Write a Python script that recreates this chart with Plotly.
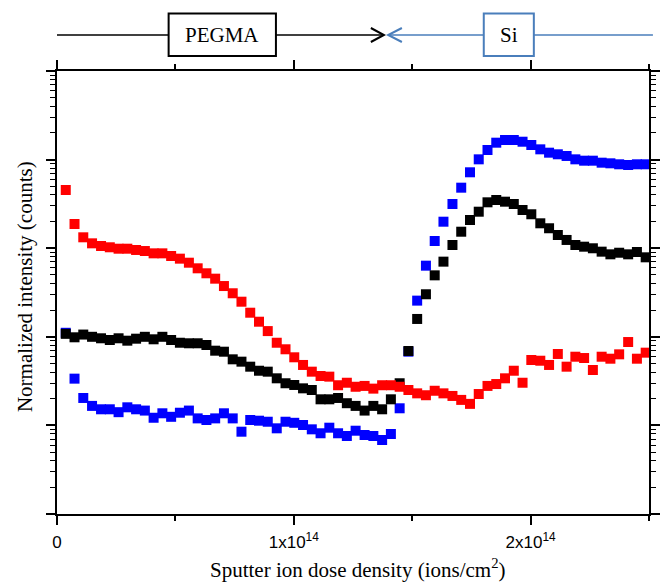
import plotly.graph_objects as go

# Sputter ion dose density, in units of 1e12 ions/cm^2
dose_e12 = [3.7, 7.4, 11.1, 14.8, 18.6, 22.3, 26.0, 29.7, 33.4, 37.1,
            40.8, 44.5, 48.2, 51.9, 55.7, 59.4, 63.1, 66.8, 70.5, 74.2,
            77.9, 81.6, 85.3, 89.0, 92.8, 96.5, 100.2, 103.9, 107.6, 111.3,
            115.0, 118.7, 122.4, 126.1, 129.9, 133.6, 137.3, 141.0, 144.7, 148.4,
            152.1, 155.8, 159.5, 163.2, 167.0, 170.7, 174.4, 178.1, 181.8, 185.5,
            189.2, 192.9, 196.6, 200.3, 204.1, 207.8, 211.5, 215.2, 218.9, 222.6,
            226.3, 230.0, 233.7, 237.4, 241.2, 244.9, 248.6]

red_counts = [4540, 1875, 1327, 1135, 1059, 1024, 987, 987, 955, 929,
              875, 875, 817, 762, 686, 593, 521, 453, 374, 310,
              249, 187, 148, 116, 85.7, 72.3, 58.7, 48.1, 40.4, 36.1,
              35.5, 28.4, 30.3, 27.3, 27.9, 26.0, 28.4, 28.4, 27.3, 25.1,
              23.0, 21.9, 24.6, 23.0, 21.5, 19.4, 17.5, 22.6, 27.9, 29.3,
              34.0, 41.4, 30.3, 54.7, 53.7, 48.1, 64.0, 46.0, 59.6, 57.6,
              42.2, 59.6, 56.6, 63.4, 87.3, 56.6, 66.2]

black_counts = [108, 98.7, 106, 100, 96.2, 92.0, 96.2, 90.4, 95.2, 100,
                93.7, 100, 92.0, 85.7, 84.5, 84.5, 80.8, 69.7, 67.9, 55.7,
                52.4, 46.0, 41.4, 40.4, 34.0, 29.9, 28.6, 26.2, 25.1, 19.7,
                19.7, 20.4, 17.8, 16.6, 14.7, 16.6, 15.2, 19.7, 29.9, 69.2,
                159, 302, 494, 705, 1087, 1535, 2080, 2582, 3296, 3500,
                3350, 3155, 2698, 2415, 1910, 1679, 1409, 1239, 1087, 1040,
                998, 914, 853, 889, 853, 906, 789]

blue_counts = [111, 33.7, 20.4, 16.6, 15.2, 15.2, 14.1, 16.0, 15.2, 14.7,
               12.2, 13.7, 12.5, 13.9, 14.7, 12.0, 11.5, 12.0, 13.7, 12.0,
               8.49, 11.5, 11.3, 11.0, 9.27, 11.0, 10.7, 10.1, 9.03, 8.15,
               9.42, 8.15, 7.59, 8.71, 7.79, 7.59, 6.84, 8.00, 15.6, 68,
               256, 635, 1205, 1991, 3155, 4820, 7190, 10070, 12830, 15520,
               16650, 16650, 15920, 14620, 13060, 11970, 11480, 10990, 10070, 9720,
               9720, 9230, 9080, 8850, 8690, 8850, 8850]

x_tickvals = [0, 100, 200]
x_ticktext = ["0", "1x10<sup>14</sup>", "2x10<sup>14</sup>"]

series = [("blue", blue_counts, "#0000FF"),
          ("black", black_counts, "#000000"),
          ("red", red_counts, "#FF0000")]

fig = go.Figure()
for name, vals, col in series:
    fig.add_trace(go.Scatter(x=dose_e12, y=vals, mode="markers", name=name,
                             marker=dict(symbol="square", size=10, color=col,
                                         line=dict(width=0))))

# plot-area geometry in pixels (for the decorative header only)
L, R, T, B = 57, 660, 71, 514
def px(p):
    return (p - L) / (R - L)
def py(p):
    return (B - p) / (B - T)

blk = "#000000"
blu = "#4A7EBB"
ly = 35
shapes = [
    dict(type="line", xref="paper", yref="paper", x0=px(57), x1=px(170.7), y0=py(ly), y1=py(ly),
         line=dict(color=blk, width=1.5)),
    dict(type="rect", xref="paper", yref="paper", x0=px(170.7), x1=px(280), y0=py(13.5), y1=py(56),
         line=dict(color=blk, width=2)),
    dict(type="line", xref="paper", yref="paper", x0=px(280), x1=px(390), y0=py(ly), y1=py(ly),
         line=dict(color=blk, width=1.5)),
    dict(type="path", xref="paper", yref="paper",
         path=f"M{px(376.7)},{py(ly - 7)} L{px(390)},{py(ly)} L{px(376.7)},{py(ly + 7)}",
         line=dict(color=blk, width=2)),
    dict(type="path", xref="paper", yref="paper",
         path=f"M{px(408.3)},{py(ly - 7)} L{px(394.3)},{py(ly)} L{px(408.3)},{py(ly + 7)}",
         line=dict(color=blu, width=2)),
    dict(type="line", xref="paper", yref="paper", x0=px(394.3), x1=px(491.7), y0=py(ly), y1=py(ly),
         line=dict(color=blu, width=1.5)),
    dict(type="rect", xref="paper", yref="paper", x0=px(491.7), x1=px(542.7), y0=py(13.5), y1=py(56),
         line=dict(color=blu, width=2)),
    dict(type="line", xref="paper", yref="paper", x0=px(542.7), x1=px(664), y0=py(ly), y1=py(ly),
         line=dict(color=blu, width=1.5)),
]

serif = "Liberation Serif, Times New Roman, serif"
sans = "Liberation Sans, Arial, sans-serif"
annotations = [
    dict(text="PEGMA", xref="paper", yref="paper", x=px(225.4), y=py(35.5), showarrow=False,
         xanchor="center", yanchor="middle", font=dict(family=serif, size=21, color="black")),
    dict(text="Si", xref="paper", yref="paper", x=px(517.2), y=py(35.5), showarrow=False,
         xanchor="center", yanchor="middle", font=dict(family=serif, size=21, color="black")),
    dict(text="Sputter ion dose density (ions/cm<sup>2</sup>)", xref="paper", yref="paper",
         x=px(364), y=py(584), showarrow=False, xanchor="center", yanchor="bottom",
         font=dict(family=serif, size=21, color="black")),
    dict(text="Normalized intensity (counts)", xref="paper", yref="paper",
         x=px(24), y=py(286.5), showarrow=False, xanchor="center", yanchor="middle", textangle=-90,
         font=dict(family=serif, size=21, color="black")),
]

fig.update_layout(
    width=668, height=585,
    margin=dict(l=L, r=668 - R, t=T, b=585 - B),
    paper_bgcolor="white", plot_bgcolor="white",
    showlegend=False,
    shapes=shapes,
    annotations=annotations,
    xaxis=dict(range=[0, 250], tickvals=x_tickvals, ticktext=x_ticktext,
               ticks="outside", ticklen=9, tickwidth=1.5, tickcolor="black",
               showline=True, linecolor="black", linewidth=1.5, mirror="allticks",
               showgrid=False, zeroline=False, ticklabelstandoff=3,
               tickfont=dict(family=sans, size=17, color="black"),
               minor=dict(tickvals=[50, 150, 250], ticks="outside", ticklen=5,
                          tickwidth=1.5, tickcolor="black", showgrid=False)),
    yaxis=dict(type="log", range=[0, 5], dtick=1, showticklabels=False,
               ticks="outside", ticklen=9, tickwidth=1.5, tickcolor="black",
               showline=True, linecolor="black", linewidth=1.5, mirror="allticks",
               showgrid=False, zeroline=False,
               minor=dict(dtick="D1", ticks="outside", ticklen=5, tickwidth=1,
                          tickcolor="black", showgrid=False)),
)

fig.write_html("out.html")
